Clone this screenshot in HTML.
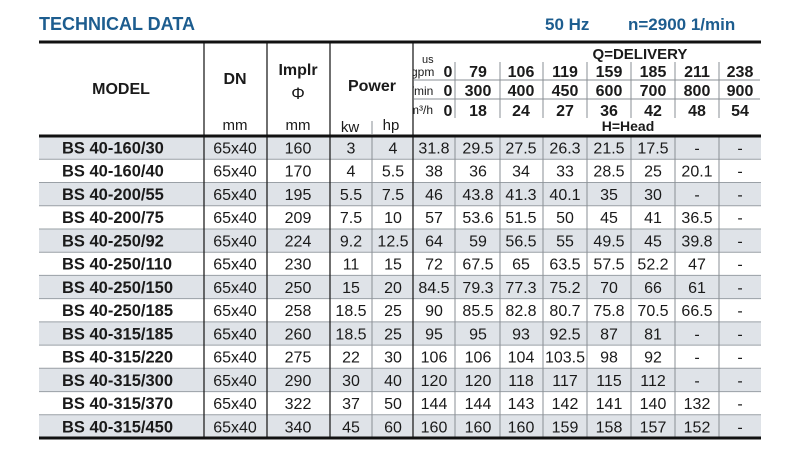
<!DOCTYPE html>
<html><head><meta charset="utf-8"><style>
html,body{margin:0;padding:0;background:#fff;width:800px;height:454px;overflow:hidden}
svg{display:block}
text{font-family:"Liberation Sans",Arial,sans-serif;fill:#1a1a1a}
.b{font-weight:bold}
.d{font-size:16px;text-anchor:middle}
.m{font-size:16.5px;font-weight:bold}
.h{font-size:16px;font-weight:bold;text-anchor:middle}
.u{font-size:15px;text-anchor:middle}
</style></head><body>
<svg width="800" height="454" viewBox="0 0 800 454">
<text x="39" y="30" style="font-size:18px;font-weight:bold;fill:#1d5d8f">TECHNICAL DATA</text>
<text x="545" y="30" style="font-size:17px;font-weight:bold;fill:#1d5d8f">50 Hz</text>
<text x="628" y="30" style="font-size:17px;font-weight:bold;fill:#1d5d8f">n=2900 1/min</text>

<g fill="#dfe3e8">
<rect x="39" y="136" width="722" height="23.2"/>
<rect x="39" y="182.5" width="722" height="23.2"/>
<rect x="39" y="229" width="722" height="23.2"/>
<rect x="39" y="275.4" width="722" height="23.2"/>
<rect x="39" y="321.9" width="722" height="23.2"/>
<rect x="39" y="368.3" width="722" height="23.2"/>
<rect x="39" y="414.8" width="722" height="23.2"/>
</g>
<g stroke="#9aa0a6" stroke-width="1">
<line x1="39" x2="761" y1="159.2" y2="159.2"/><line x1="39" x2="761" y1="182.5" y2="182.5"/>
<line x1="39" x2="761" y1="205.7" y2="205.7"/><line x1="39" x2="761" y1="229" y2="229"/>
<line x1="39" x2="761" y1="252.2" y2="252.2"/><line x1="39" x2="761" y1="275.4" y2="275.4"/>
<line x1="39" x2="761" y1="298.6" y2="298.6"/><line x1="39" x2="761" y1="321.9" y2="321.9"/>
<line x1="39" x2="761" y1="345.1" y2="345.1"/><line x1="39" x2="761" y1="368.3" y2="368.3"/>
<line x1="39" x2="761" y1="391.6" y2="391.6"/><line x1="39" x2="761" y1="414.8" y2="414.8"/>
</g>
<g stroke="#222" stroke-width="1.3">
<line x1="204" x2="204" y1="42" y2="438"/><line x1="267" x2="267" y1="42" y2="438"/>
<line x1="330" x2="330" y1="42" y2="438"/><line x1="413" x2="413" y1="42" y2="438"/>
</g>
<g stroke="#8a8f94" stroke-width="1">
<line x1="372" x2="372" y1="136" y2="438"/><line x1="372" x2="372" y1="121" y2="134"/>
<line x1="455" x2="455" y1="136" y2="438"/><line x1="500" x2="500" y1="136" y2="438"/>
<line x1="543" x2="543" y1="136" y2="438"/><line x1="587" x2="587" y1="136" y2="438"/>
<line x1="631" x2="631" y1="136" y2="438"/><line x1="675" x2="675" y1="136" y2="438"/>
<line x1="719" x2="719" y1="136" y2="438"/>
<line x1="455" x2="455" y1="62" y2="118"/><line x1="500" x2="500" y1="62" y2="118"/>
<line x1="543" x2="543" y1="62" y2="118"/><line x1="587" x2="587" y1="62" y2="118"/>
<line x1="631" x2="631" y1="62" y2="118"/><line x1="675" x2="675" y1="62" y2="118"/>
<line x1="719" x2="719" y1="62" y2="118"/>
<line x1="414" x2="760" y1="80" y2="80"/><line x1="414" x2="760" y1="99" y2="99"/>
</g>
<g stroke="#111" stroke-width="3">
<line x1="39" x2="761" y1="42" y2="42"/>
<line x1="39" x2="761" y1="136" y2="136"/>
<line x1="39" x2="761" y1="438" y2="438"/>
</g>

<text class="h" x="121" y="94">MODEL</text>
<text class="h" x="235" y="84">DN</text>
<text class="h" x="298" y="75">Implr</text>
<text class="u" x="298" y="99" style="font-size:17px">Φ</text>
<text class="h" x="372" y="91">Power</text>
<text class="u" x="235" y="130">mm</text>
<text class="u" x="298" y="130">mm</text>
<text class="u" x="350" y="132">kw</text>
<text class="u" x="391" y="130">hp</text>
<text class="b" x="640" y="59" style="font-size:15px;text-anchor:middle">Q=DELIVERY</text>
<text class="b" x="628" y="131" style="font-size:14px;text-anchor:middle">H=Head</text>
<svg x="413" y="40" width="30" height="90"><g style="font-size:12px">
<text x="9" y="23" style="font-size:11px">us</text>
<text x="-2" y="36">gpm</text>
<text x="-5" y="55">l/min</text>
<text x="-4" y="74">m³/h</text></g></svg>
<g>
<text class="h" x="448" y="77">0</text><text class="h" x="448" y="96">0</text><text class="h" x="448" y="116">0</text>
<text class="h" x="478" y="77">79</text><text class="h" x="521" y="77">106</text><text class="h" x="565" y="77">119</text><text class="h" x="609" y="77">159</text><text class="h" x="653" y="77">185</text><text class="h" x="697" y="77">211</text><text class="h" x="740" y="77">238</text>
<text class="h" x="478" y="96">300</text><text class="h" x="521" y="96">400</text><text class="h" x="565" y="96">450</text><text class="h" x="609" y="96">600</text><text class="h" x="653" y="96">700</text><text class="h" x="697" y="96">800</text><text class="h" x="740" y="96">900</text>
<text class="h" x="478" y="116">18</text><text class="h" x="521" y="116">24</text><text class="h" x="565" y="116">27</text><text class="h" x="609" y="116">36</text><text class="h" x="653" y="116">42</text><text class="h" x="697" y="116">48</text><text class="h" x="740" y="116">54</text>
</g>

<g id="rows"></g>
</svg>
<script>
var data=[
["BS 40-160/30","160","3","4","31.8","29.5","27.5","26.3","21.5","17.5","-","-"],
["BS 40-160/40","170","4","5.5","38","36","34","33","28.5","25","20.1","-"],
["BS 40-200/55","195","5.5","7.5","46","43.8","41.3","40.1","35","30","-","-"],
["BS 40-200/75","209","7.5","10","57","53.6","51.5","50","45","41","36.5","-"],
["BS 40-250/92","224","9.2","12.5","64","59","56.5","55","49.5","45","39.8","-"],
["BS 40-250/110","230","11","15","72","67.5","65","63.5","57.5","52.2","47","-"],
["BS 40-250/150","250","15","20","84.5","79.3","77.3","75.2","70","66","61","-"],
["BS 40-250/185","258","18.5","25","90","85.5","82.8","80.7","75.8","70.5","66.5","-"],
["BS 40-315/185","260","18.5","25","95","95","93","92.5","87","81","-","-"],
["BS 40-315/220","275","22","30","106","106","104","103.5","98","92","-","-"],
["BS 40-315/300","290","30","40","120","120","118","117","115","112","-","-"],
["BS 40-315/370","322","37","50","144","144","143","142","141","140","132","-"],
["BS 40-315/450","340","45","60","160","160","160","159","158","157","152","-"]];
var xs=[298,351,393,434,478,521,565,609,653,697,740];
var s="";
data.forEach(function(r,i){var y=136+i*23.23+17.5;
s+='<text class="m" x="62" y="'+y+'">'+r[0]+'</text>';
s+='<text class="d" x="235" y="'+y+'">65x40</text>';
for(var j=1;j<r.length;j++){s+='<text class="d" x="'+xs[j-1]+'" y="'+y+'">'+r[j]+'</text>';}
});
document.getElementById("rows").innerHTML=s;
</script>
</body></html>
